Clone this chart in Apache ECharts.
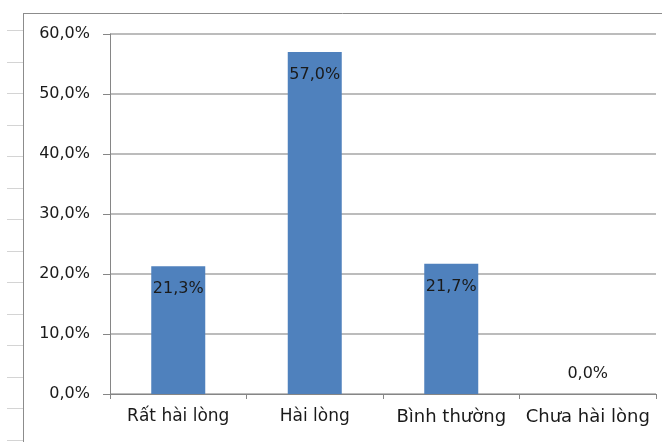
<!DOCTYPE html>
<html>
<head>
<meta charset="utf-8">
<script src="https://cdn.jsdelivr.net/npm/echarts@6/dist/echarts.min.js"></script>
<style>
  html, body { margin: 0; padding: 0; background: #fff; }
  #chart { width: 662px; height: 442px; }
</style>
</head>
<body>
<div id="chart"></div>
<script>
// Mức độ hài lòng
const categories = ['Rất hài lòng', 'Hài lòng', 'Bình thường', 'Chưa hài lòng'];
const values = [21.3, 57.0, 21.7, 0.0];
const labelStyles = ['s', 's', 'b', 'b'];

const fmtPct = v => v.toFixed(1).replace('.', ',') + '%';

// spreadsheet row marks on the left margin
const rowMarks = [];
for (let y = 30; y < 442; y += 31.5) {
  rowMarks.push({
    type: 'line', silent: true,
    shape: { x1: 7, y1: Math.round(y) + 0.5, x2: 23, y2: Math.round(y) + 0.5 },
    style: { stroke: '#d4d4d4', lineWidth: 1 }
  });
}

const chart = echarts.init(document.getElementById('chart'), null, { renderer: 'canvas' });
chart.setOption({
  backgroundColor: '#ffffff',
  animation: false,
  textStyle: { fontFamily: 'DejaVu Sans' },
  graphic: [
    ...rowMarks,
    { type: 'line', silent: true, shape: { x1: 23.5, y1: 13, x2: 23.5, y2: 442 }, style: { stroke: '#8c8c8c', lineWidth: 1 } },
    { type: 'line', silent: true, shape: { x1: 23, y1: 13.5, x2: 662, y2: 13.5 }, style: { stroke: '#8c8c8c', lineWidth: 1 } }
  ],
  grid: { left: 110, right: 6, top: 34, bottom: 48 },
  xAxis: {
    type: 'category',
    data: categories,
    axisLine: { lineStyle: { color: '#868686', width: 1 } },
    axisTick: { show: true, length: 5, lineStyle: { color: '#868686' } },
    axisLabel: {
      margin: 14,
      interval: 0,
      formatter: (v, i) => '{' + labelStyles[i] + '|' + v + '}',
      rich: {
        s: { fontSize: 17, color: '#1a1a1a', fontFamily: 'DejaVu Sans' },
        b: { fontSize: 18, color: '#1a1a1a', fontFamily: 'DejaVu Sans' }
      }
    }
  },
  yAxis: {
    type: 'value',
    min: 0, max: 60, interval: 10,
    axisLine: { show: true, lineStyle: { color: '#868686', width: 1 } },
    axisTick: { show: true, inside: false, length: 7, lineStyle: { color: '#868686' } },
    axisLabel: { margin: 20, fontSize: 16, color: '#1a1a1a', formatter: v => fmtPct(v) },
    splitLine: { lineStyle: { color: '#a6a6a6', width: 1.5 } }
  },
  series: [{
    type: 'bar',
    data: values.map((v, i) => ({
      value: v,
      label: i === values.length - 1 ? { position: 'top', distance: 12 } : {}
    })),
    barWidth: 54,
    itemStyle: { color: '#4f81bd' },
    label: {
      show: true,
      position: 'insideTop',
      distance: 15,
      fontSize: 16,
      color: '#1a1a1a',
      formatter: p => fmtPct(p.value)
    }
  }]
});
</script>
</body>
</html>
